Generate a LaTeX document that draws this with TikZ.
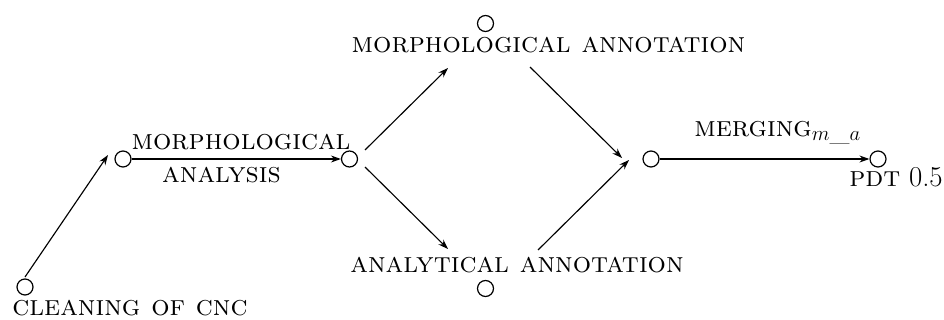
\documentclass[tikz,border=0pt]{standalone}
\usetikzlibrary{arrows.meta}
\begin{document}
\begin{tikzpicture}[x=1pt,y=-1pt,
  dot/.style={circle,draw,line width=1.2pt,minimum size=16pt,inner sep=0pt},
  lbl/.style={inner sep=0pt,anchor=base,font=\fontsize{28.8}{34}\selectfont},
  arr/.style={line width=1.15pt,-{Stealth[length=10pt,width=7pt]}}]
\useasboundingbox (0,0) rectangle (944,320);
% circles
\node[dot] (c0) at (25,287) {};
\node[dot] (c1) at (123,159) {};
\node[dot] (c2) at (349.5,159) {};
\node[dot] (ct) at (485.5,23.5) {};
\node[dot] (cb) at (485.5,288.5) {};
\node[dot] (cm) at (651,159) {};
\node[dot] (cp) at (878,159) {};
% labels
\node[lbl] (l0) at (130,315) {\textsc{cleaning of cnc}};
\node[lbl] (l1a) at (241,150) {\textsc{morphological}};
\node[lbl] (l1b) at (221.5,183) {\textsc{analysis}};
\node[lbl] (lt) at (548.5,53) {\textsc{morphological annotation}};
\node[lbl] (lb) at (517,272) {\textsc{analytical annotation}};
\node[lbl] (lm) at (777.5,137) {\textsc{merging}$_{m\_a}$};
\node[lbl] (lp) at (896,187) {\textsc{pdt}~0.5};
% connector ends
\coordinate (a1s) at (25,277);
\coordinate (a1e) at (108,155);
\coordinate (a3s) at (365,150);
\coordinate (a3e) at (448,68);
\coordinate (a4s) at (530,67);
\coordinate (a4e) at (622,158);
\coordinate (a5s) at (365,167);
\coordinate (a5e) at (448,249);
\coordinate (a6s) at (538,250);
\coordinate (a6e) at (629,160);
% connectors
\draw[arr] (a1s) -- (a1e);
\draw[arr] (c1) -- (c2);
\draw[arr] (a3s) -- (a3e);
\draw[arr] (a4s) -- (a4e);
\draw[arr] (a5s) -- (a5e);
\draw[arr] (a6s) -- (a6e);
\draw[arr] (cm) -- (cp);
\end{tikzpicture}
\end{document}
